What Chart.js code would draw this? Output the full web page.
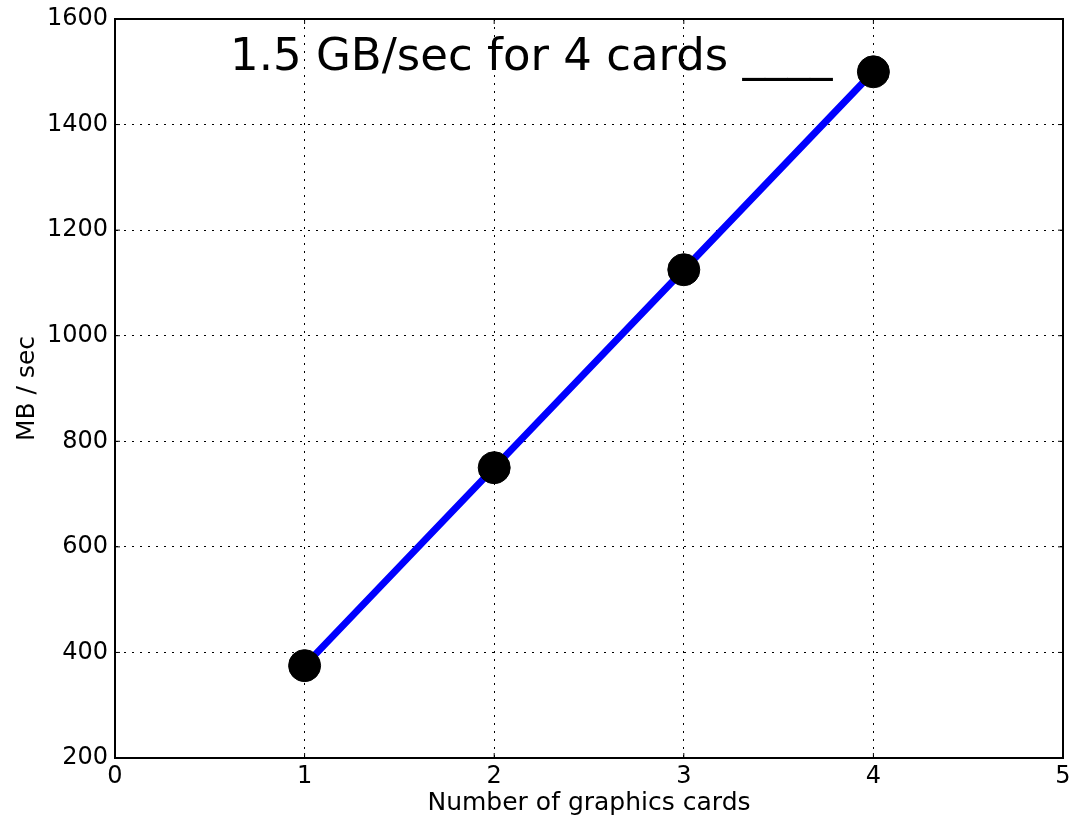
<!DOCTYPE html>
<html>
<head>
<meta charset="utf-8">
<script src="https://cdn.jsdelivr.net/npm/chart.js@4/dist/chart.umd.min.js"></script>
<style>
  html, body { margin: 0; padding: 0; background: #fff; }
  canvas { display: block; }
</style>
</head>
<body>
<canvas id="c" width="1076" height="821"></canvas>
<script>
const cards = [1, 2, 3, 4];
const mbPerSec = [375, 750, 1125, 1500];
const xTicks = [0, 1, 2, 3, 4, 5];
const yTicks = [200, 400, 600, 800, 1000, 1200, 1400, 1600];
const annotationText = '1.5 GB/sec for 4 cards ____';
const annotationAnchor = { x: 0.607, y: 1503 };
const xTitle = 'Number of graphics cards';
const yTitle = 'MB / sec';

const FONT = "'DejaVu Sans', sans-serif";

const framePlugin = {
  id: 'frame',
  afterDatasetsDraw(chart) {
    const { ctx, chartArea: a, scales } = chart;
    ctx.save();
    // inward tick marks
    ctx.strokeStyle = '#000';
    ctx.lineWidth = 1;
    const tl = 5;
    ctx.beginPath();
    xTicks.forEach(v => {
      const px = scales.x.getPixelForValue(v);
      ctx.moveTo(px, a.bottom); ctx.lineTo(px, a.bottom - tl);
      ctx.moveTo(px, a.top); ctx.lineTo(px, a.top + tl);
    });
    yTicks.forEach(v => {
      const py = scales.y.getPixelForValue(v);
      ctx.moveTo(a.left, py); ctx.lineTo(a.left + tl, py);
      ctx.moveTo(a.right, py); ctx.lineTo(a.right - tl, py);
    });
    ctx.stroke();
    // frame
    ctx.lineWidth = 2;
    ctx.strokeRect(a.left, a.top, a.right - a.left, a.bottom - a.top);
    // annotation text
    ctx.fillStyle = '#000';
    ctx.font = "45px " + FONT;
    ctx.textAlign = 'left';
    ctx.textBaseline = 'alphabetic';
    ctx.fillText(annotationText,
      scales.x.getPixelForValue(annotationAnchor.x),
      scales.y.getPixelForValue(annotationAnchor.y));
    ctx.restore();
  }
};

new Chart(document.getElementById('c'), {
  type: 'line',
  data: {
    datasets: [{
      data: cards.map((c, i) => ({ x: c, y: mbPerSec[i] })),
      borderColor: '#0000ff',
      borderWidth: 7,
      pointRadius: 16,
      pointBackgroundColor: '#000',
      pointBorderColor: '#000',
      pointBorderWidth: 1,
      pointHoverRadius: 16,
      tension: 0,
      clip: false
    }]
  },
  options: {
    responsive: false,
    animation: false,
    events: [],
    layout: { autoPadding: false, padding: { top: 19, right: 13, bottom: 0, left: 0 } },
    plugins: {
      legend: { display: false },
      tooltip: { enabled: false },
      title: { display: false }
    },
    scales: {
      x: {
        type: 'linear',
        min: 0, max: 5,
        afterBuildTicks: s => { s.ticks = xTicks.map(v => ({ value: v })); },
        afterFit: s => { s.height = 63; s.paddingLeft = 0; s.paddingRight = 0; },
        ticks: { color: '#000', font: { family: FONT, size: 24 }, padding: 4, maxRotation: 0, callback: v => String(v) },
        grid: { color: '#000', lineWidth: 1, drawTicks: false, tickLength: 0 },
        border: { display: true, color: '#000', width: 2, dash: [2, 6] },
        title: { display: true, text: xTitle, color: '#000', font: { family: FONT, size: 25 }, padding: { top: 0, bottom: 3 } }
      },
      y: {
        type: 'linear',
        min: 200, max: 1600,
        afterBuildTicks: s => { s.ticks = yTicks.map(v => ({ value: v })); },
        afterFit: s => { s.width = 115; s.paddingTop = 0; s.paddingBottom = 0; },
        ticks: { color: '#000', font: { family: FONT, size: 24 }, padding: 7, callback: v => String(v) },
        grid: { color: '#000', lineWidth: 1, drawTicks: false, tickLength: 0 },
        border: { display: true, color: '#000', width: 2, dash: [2, 6] },
        title: { display: true, text: yTitle, color: '#000', font: { family: FONT, size: 25 }, padding: { top: 12, bottom: 0 } }
      }
    }
  },
  plugins: [framePlugin]
});
</script>
</body>
</html>
